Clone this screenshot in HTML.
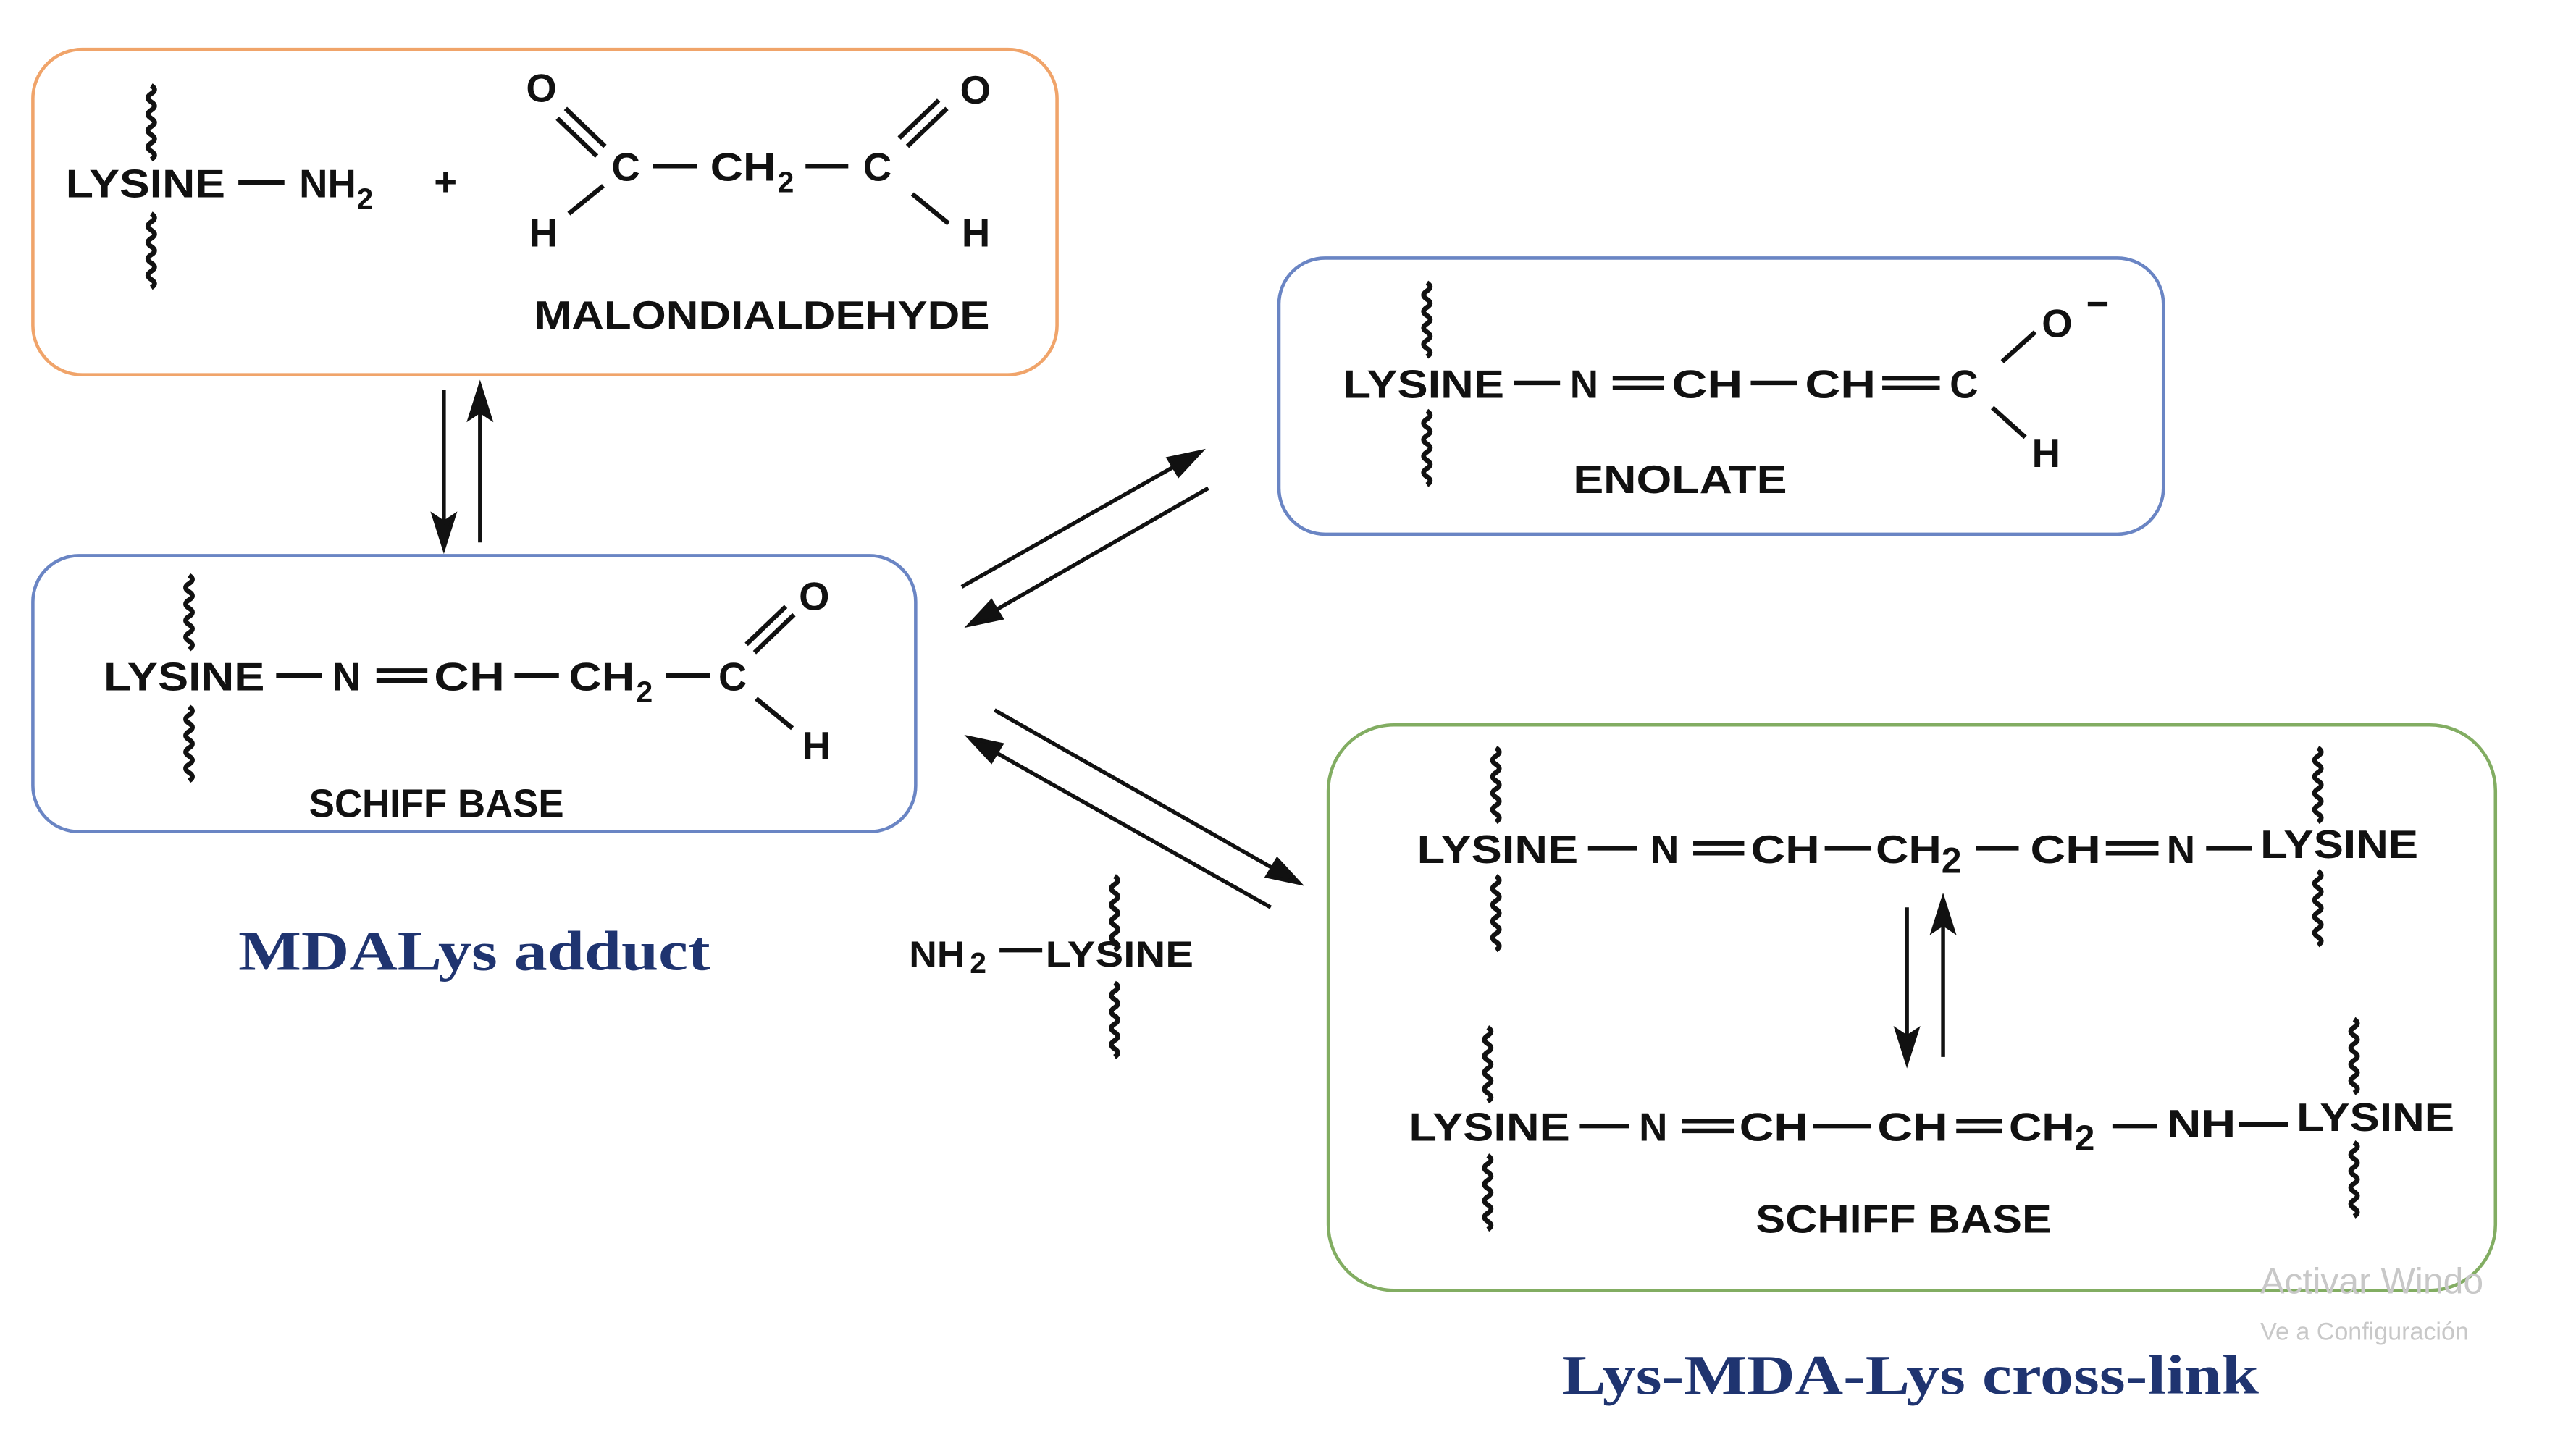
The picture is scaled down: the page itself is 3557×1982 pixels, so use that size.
<!DOCTYPE html>
<html><head><meta charset="utf-8"><style>
html,body{margin:0;padding:0;background:#fff;}
svg{display:block}
text{font-family:"Liberation Sans",Arial,sans-serif;font-weight:bold;fill:#111;}
.s{font-family:"Liberation Serif",serif;fill:#1f3470;}
</style></head><body>
<svg width="3557" height="1982" viewBox="0 0 1567 873" preserveAspectRatio="none" xmlns="http://www.w3.org/2000/svg">
<rect width="1567" height="873" fill="#fff"/>
<g fill="none" stroke-width="2">
<rect x="20" y="30" width="623" height="198" rx="30" stroke="#f0a46a"/>
<rect x="20" y="338" width="537" height="168" rx="28" stroke="#6a85c4"/>
<rect x="778" y="157" width="538" height="168" rx="28" stroke="#6a85c4"/>
<rect x="808" y="441" width="710" height="344" rx="40" stroke="#82ad62"/>
</g>
<g fill="none" stroke="#111" stroke-width="3">
<path id="w1" d="M0 0 q4 2.5 0 5 q-4 2.5 0 5 q4 2.5 0 5 q-4 2.5 0 5 q4 2.5 0 5 q-4 2.5 0 5 q4 2.5 0 5 q-4 2.5 0 5 q4 2.5 0 5" transform="translate(92,52)"/>
<use href="#w1" transform="translate(0,78)"/>
<use href="#w1" transform="translate(23,298)"/>
<use href="#w1" transform="translate(23,378)"/>
<use href="#w1" transform="translate(776,120)"/>
<use href="#w1" transform="translate(776,198)"/>
<use href="#w1" transform="translate(586,481)"/>
<use href="#w1" transform="translate(586,546)"/>
<use href="#w1" transform="translate(818,403)"/>
<use href="#w1" transform="translate(818,481)"/>
<use href="#w1" transform="translate(1318,403)"/>
<use href="#w1" transform="translate(1318,478)"/>
<use href="#w1" transform="translate(813,573)"/>
<use href="#w1" transform="translate(813,651)"/>
<use href="#w1" transform="translate(1340,568)"/>
<use href="#w1" transform="translate(1340,643)"/>
</g>
<g stroke="#111" stroke-width="2.8" fill="none">
<line x1="145" y1="111" x2="173" y2="111"/>
<line x1="397" y1="101" x2="424" y2="101"/>
<line x1="490" y1="101" x2="516" y2="101"/>
<line x1="344" y1="66" x2="368" y2="89"/><line x1="339" y1="72" x2="363" y2="95"/>
<line x1="346" y1="130" x2="367" y2="113"/>
<line x1="576" y1="66" x2="552" y2="89"/><line x1="571" y1="61" x2="547" y2="84"/>
<line x1="555" y1="118" x2="577" y2="136"/>
<line x1="168" y1="411" x2="196" y2="411"/>
<line x1="229" y1="408" x2="260" y2="408"/><line x1="229" y1="414" x2="260" y2="414"/>
<line x1="313" y1="411" x2="340" y2="411"/>
<line x1="405" y1="411" x2="432" y2="411"/>
<line x1="483" y1="374" x2="459" y2="397"/><line x1="478" y1="369" x2="454" y2="392"/>
<line x1="460" y1="425" x2="482" y2="443"/>
<line x1="921" y1="233" x2="949" y2="233"/>
<line x1="981" y1="230" x2="1012" y2="230"/><line x1="981" y1="236" x2="1012" y2="236"/>
<line x1="1065" y1="233" x2="1093" y2="233"/>
<line x1="1145" y1="230" x2="1180" y2="230"/><line x1="1145" y1="236" x2="1180" y2="236"/>
<line x1="1218" y1="220" x2="1238" y2="202"/>
<line x1="1212" y1="248" x2="1232" y2="266"/>
<line x1="1270" y1="185" x2="1282" y2="185"/>
<line x1="966" y1="516" x2="996" y2="516"/>
<line x1="1030" y1="513" x2="1061" y2="513"/><line x1="1030" y1="519" x2="1061" y2="519"/>
<line x1="1110" y1="516" x2="1138" y2="516"/>
<line x1="1202" y1="516" x2="1228" y2="516"/>
<line x1="1281" y1="513" x2="1313" y2="513"/><line x1="1281" y1="519" x2="1313" y2="519"/>
<line x1="1342" y1="516" x2="1370" y2="516"/>
<line x1="961" y1="685" x2="991" y2="685"/>
<line x1="1023" y1="682" x2="1055" y2="682"/><line x1="1023" y1="688" x2="1055" y2="688"/>
<line x1="1103" y1="685" x2="1138" y2="685"/>
<line x1="1190" y1="682" x2="1218" y2="682"/><line x1="1190" y1="688" x2="1218" y2="688"/>
<line x1="1285" y1="685" x2="1312" y2="685"/>
<line x1="1362" y1="684" x2="1392" y2="684"/>
<line x1="608" y1="578" x2="634" y2="578"/>
</g>
<g stroke="#111" stroke-width="2.4" fill="#111">
<line x1="270" y1="237" x2="270" y2="322"/><path d="M264 314 L270 333 L276 314 L270 318Z"/>
<line x1="292" y1="330" x2="292" y2="246"/><path d="M286 254 L292 235 L298 254 L292 250Z"/>
<line x1="1160" y1="552" x2="1160" y2="635"/><path d="M1154 627 L1160 646 L1166 627 L1160 631Z"/>
<line x1="1182" y1="643" x2="1182" y2="558"/><path d="M1176 566 L1182 547 L1188 566 L1182 562Z"/>
<line x1="585" y1="357" x2="721" y2="280"/><path d="M711 279 L730 275 L717 289 Z"/>
<line x1="735" y1="297" x2="599" y2="375"/><path d="M603 366 L590 380 L609 376 Z"/>
<line x1="605" y1="432" x2="781" y2="532"/><path d="M771 533 L790 537 L777 523 Z"/>
<line x1="773" y1="552" x2="599" y2="454"/><path d="M603 463 L590 449 L609 453 Z"/>
</g>
<g font-size="24">
<text x="40" y="120" textLength="97" lengthAdjust="spacingAndGlyphs">LYSINE</text>
<text x="182" y="120">NH</text><text x="217" y="127" font-size="18">2</text>
<text x="264" y="119">+</text>
<text x="320" y="62">O</text>
<text x="372" y="110">C</text>
<text x="432" y="110" textLength="40" lengthAdjust="spacingAndGlyphs">CH</text><text x="473" y="117" font-size="18">2</text>
<text x="525" y="110">C</text>
<text x="584" y="63">O</text>
<text x="322" y="150">H</text>
<text x="585" y="150">H</text>
<text x="325" y="200" textLength="277" lengthAdjust="spacingAndGlyphs">MALONDIALDEHYDE</text>
<text x="63" y="420" textLength="98" lengthAdjust="spacingAndGlyphs">LYSINE</text>
<text x="202" y="420">N</text>
<text x="264" y="420" textLength="43" lengthAdjust="spacingAndGlyphs">CH</text>
<text x="346" y="420" textLength="40" lengthAdjust="spacingAndGlyphs">CH</text><text x="387" y="427" font-size="18">2</text>
<text x="437" y="420">C</text>
<text x="486" y="371">O</text>
<text x="488" y="462">H</text>
<text x="188" y="497" textLength="155" lengthAdjust="spacingAndGlyphs">SCHIFF BASE</text>
<text x="817" y="242" textLength="98" lengthAdjust="spacingAndGlyphs">LYSINE</text>
<text x="955" y="242">N</text>
<text x="1017" y="242" textLength="43" lengthAdjust="spacingAndGlyphs">CH</text>
<text x="1098" y="242" textLength="43" lengthAdjust="spacingAndGlyphs">CH</text>
<text x="1186" y="242">C</text>
<text x="1242" y="205">O</text>
<text x="1236" y="284">H</text>
<text x="957" y="300" textLength="130" lengthAdjust="spacingAndGlyphs">ENOLATE</text>
<text x="553" y="588" font-size="22" textLength="34" lengthAdjust="spacingAndGlyphs">NH</text><text x="590" y="592" font-size="18">2</text>
<text x="636" y="588" font-size="22" textLength="90" lengthAdjust="spacingAndGlyphs">LYSINE</text>
<text x="862" y="525" textLength="98" lengthAdjust="spacingAndGlyphs">LYSINE</text>
<text x="1004" y="525">N</text>
<text x="1065" y="525" textLength="42" lengthAdjust="spacingAndGlyphs">CH</text>
<text x="1141" y="525" textLength="40" lengthAdjust="spacingAndGlyphs">CH</text><text x="1181" y="531" font-size="22">2</text>
<text x="1235" y="525" textLength="43" lengthAdjust="spacingAndGlyphs">CH</text>
<text x="1318" y="525">N</text>
<text x="1375" y="522" textLength="96" lengthAdjust="spacingAndGlyphs">LYSINE</text>
<text x="857" y="694" textLength="98" lengthAdjust="spacingAndGlyphs">LYSINE</text>
<text x="997" y="694">N</text>
<text x="1058" y="694" textLength="42" lengthAdjust="spacingAndGlyphs">CH</text>
<text x="1142" y="694" textLength="43" lengthAdjust="spacingAndGlyphs">CH</text>
<text x="1222" y="694" textLength="40" lengthAdjust="spacingAndGlyphs">CH</text><text x="1262" y="700" font-size="22">2</text>
<text x="1318" y="692" textLength="42" lengthAdjust="spacingAndGlyphs">NH</text>
<text x="1397" y="688" textLength="96" lengthAdjust="spacingAndGlyphs">LYSINE</text>
<text x="1068" y="750" textLength="180" lengthAdjust="spacingAndGlyphs">SCHIFF BASE</text>
</g>
<text class="s" x="145" y="590" font-size="34" textLength="287" lengthAdjust="spacingAndGlyphs">MDALys adduct</text>
<text class="s" x="950" y="848" font-size="34" textLength="424" lengthAdjust="spacingAndGlyphs">Lys-MDA-Lys cross-link</text>
<text x="1375" y="787" font-size="22" style="font-weight:normal;fill:#c8c8c8">Activar Windo</text>
<text x="1375" y="815" font-size="15" style="font-weight:normal;fill:#c8c8c8">Ve a Configuración</text>
</svg>
</body></html>
